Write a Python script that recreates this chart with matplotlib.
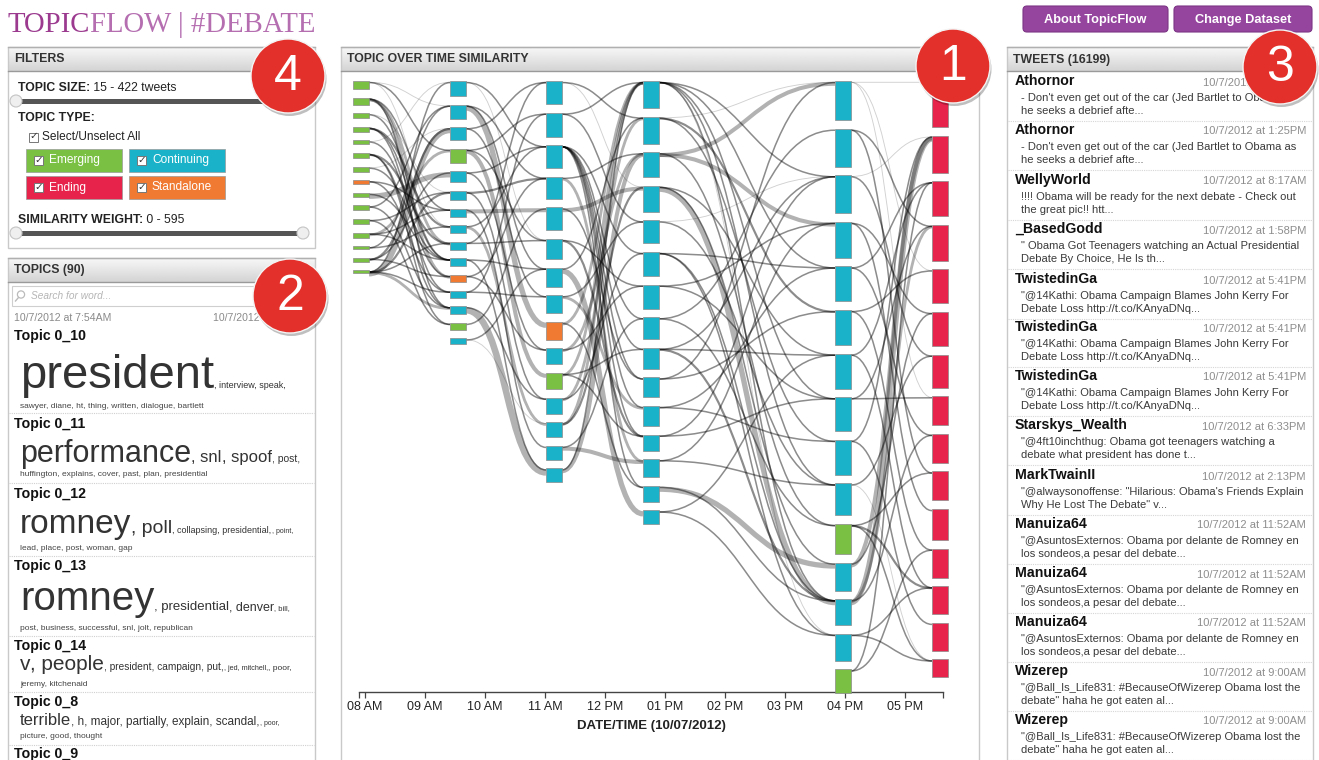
import matplotlib
matplotlib.use('Agg')
import matplotlib.pyplot as plt
from matplotlib.patches import Rectangle, FancyBboxPatch, Circle, PathPatch
from matplotlib.path import Path
import numpy as np

plt.rcParams['font.family'] = ['Liberation Sans', 'DejaVu Sans']

# ---------------- data ----------------
col_times = ['07:56', '09:33', '11:09', '12:46', '15:58', '17:35']
size_c1 = [8, 7, 5, 5, 4, 5, 5, 4, 4, 5, 5, 5, 3, 4, 3]
size_c2 = [15, 14, 13, 14, 11, 9, 8, 8, 8, 8, 7, 7, 8, 7, 6]
size_c3 = [23, 24, 23, 22, 23, 20, 19, 18, 18, 16, 16, 16, 15, 14, 14]
size_c4 = [27, 27, 25, 26, 23, 24, 24, 22, 21, 20, 20, 16, 18, 16, 14]
size_c5 = [39, 38, 38, 36, 35, 35, 35, 34, 35, 32, 30, 28, 26, 27, 24]
size_c6 = [46, 37, 35, 36, 34, 34, 33, 29, 29, 29, 31, 29, 28, 28, 18]
type_c1 = ['E'] * 7 + ['S'] + ['E'] * 7
type_c2 = ['C', 'C', 'C', 'E', 'C', 'C', 'C', 'C', 'C', 'C', 'S', 'C', 'C', 'E', 'C']
type_c3 = ['C'] * 8 + ['S', 'C', 'E', 'C', 'C', 'C', 'C']
type_c4 = ['C'] * 15
type_c5 = ['C'] * 10 + ['E', 'C', 'C', 'C', 'E']
type_c6 = ['N'] * 15

# links between consecutive columns: (source node, target node, weight)
links_1_2 = [(0, 3, 1), (0, 7, 0.5), (0, 1, 0.5), (1, 8, 2), (1, 10, 2), (1, 6, 1), (1, 12, 1),
             (2, 9, 1), (2, 5, 0.5), (3, 7, 1.5), (3, 11, 1), (3, 9, 1), (4, 10, 1), (4, 0, 0.5),
             (5, 8, 1.5), (5, 12, 1), (5, 13, 1), (6, 9, 1), (6, 2, 0.5), (7, 6, 1), (7, 11, 1),
             (8, 4, 4), (8, 9, 1), (9, 12, 1), (9, 1, 1), (10, 5, 1), (10, 13, 1), (11, 3, 2),
             (11, 6, 1), (11, 9, 1), (12, 1, 1), (12, 7, 1), (13, 2, 1.5), (13, 10, 1), (13, 4, 1),
             (14, 2, 4), (14, 0, 1), (14, 5, 1.5), (14, 8, 1), (14, 11, 1), (14, 12, 2)]
links_2_3 = [(0, 2, 1), (0, 5, 0.5), (1, 8, 4), (1, 6, 1), (1, 3, 1), (2, 0, 1), (2, 7, 1),
             (3, 10, 3), (3, 5, 1), (3, 1, 1), (4, 2, 1), (4, 9, 1), (5, 3, 1.5), (5, 11, 1),
             (6, 4, 3), (6, 13, 1), (7, 12, 2), (7, 2, 1), (8, 5, 1), (8, 0, 1), (9, 6, 1),
             (9, 14, 1), (10, 3, 1), (10, 9, 1), (11, 7, 1), (11, 1, 1), (12, 14, 5), (12, 11, 1),
             (13, 4, 1), (14, 6, 1), (14, 12, 0.5)]
links_3_4 = [(0, 1, 1), (0, 3, 0.5), (1, 0, 1), (1, 4, 1), (2, 7, 1), (2, 8, 1), (2, 9, 1),
             (2, 10, 1), (2, 11, 1), (2, 13, 1), (2, 5, 1), (3, 2, 1), (3, 12, 2), (4, 3, 3),
             (4, 9, 1), (5, 11, 1.5), (5, 6, 1), (6, 14, 4), (6, 1, 1), (7, 10, 2), (7, 4, 1),
             (8, 13, 1), (8, 0, 2), (9, 2, 2), (9, 6, 1), (10, 8, 1), (10, 11, 1), (10, 0, 2),
             (11, 1, 2), (11, 5, 1), (12, 3, 1.5), (12, 0, 2), (13, 12, 3), (13, 7, 1),
             (14, 2, 3), (14, 0, 1)]
links_4_5 = [(0, 2, 1), (0, 4, 1), (0, 7, 1), (0, 9, 1), (0, 12, 1), (0, 13, 0.5), (1, 5, 1.5),
             (1, 8, 1), (1, 0, 0.5), (2, 0, 3), (2, 3, 3), (2, 10, 1), (3, 12, 4), (3, 6, 1),
             (3, 11, 1), (4, 9, 1), (4, 2, 0.5), (5, 4, 1), (5, 13, 1), (5, 12, 1), (6, 3, 1),
             (6, 7, 1), (7, 1, 1), (7, 10, 1), (8, 2, 1), (8, 6, 1), (8, 12, 1.5), (9, 5, 1),
             (9, 0, 1), (10, 8, 1), (10, 4, 1), (11, 7, 1), (11, 2, 1), (12, 9, 1), (12, 3, 1),
             (13, 11, 4), (13, 12, 1), (14, 13, 1), (14, 6, 1)]
links_5_6 = [(0, 4, 0.5), (0, 0, 0.5), (0, 7, 0.5), (1, 3, 1), (1, 9, 1), (2, 6, 1), (2, 1, 0.5),
             (3, 5, 1), (3, 10, 1), (4, 8, 1), (4, 2, 1), (5, 4, 1), (5, 11, 1), (6, 2, 1),
             (6, 12, 1), (7, 7, 1), (7, 3, 1), (8, 13, 1), (8, 1, 1), (9, 6, 1), (9, 14, 0.5),
             (10, 12, 1.5), (10, 9, 1), (10, 14, 1), (11, 1, 3), (11, 5, 1), (12, 1, 4),
             (12, 3, 2), (12, 8, 1), (13, 14, 1), (13, 12, 1), (14, 11, 1), (14, 2, 1)]

tick_hours = [8, 9, 10, 11, 12, 13, 14, 15, 16, 17]
tick_labels = ['08 AM', '09 AM', '10 AM', '11 AM', '12 PM', '01 PM', '02 PM', '03 PM', '04 PM', '05 PM']
axis_start, axis_end = '07:54', '17:38'

topic_names = ['Topic 0_10', 'Topic 0_11', 'Topic 0_12', 'Topic 0_13', 'Topic 0_14', 'Topic 0_8', 'Topic 0_9']
topic_line1 = [
    [('president', 34), (', interview, speak,', 6.5)],
    [('performance', 22), (', snl', 12), (', spoof', 12), (', post,', 7.5)],
    [('romney', 24), (', poll', 14), (', collapsing, presidential,', 6.5), (', point,', 5)],
    [('romney', 29), (', presidential', 9.5), (', denver', 9), (', bill,', 5.5)],
    [('v', 15), (', people', 15), (', president, campaign, put,', 7.3), (', jed, mitchell,', 5.2), (', poor,', 6)],
    [('terrible', 12), (', h, major, partially, explain, scandal,', 8.5), (', poor,', 5)],
]
topic_line2 = ['sawyer, diane, ht, thing, written, dialogue, bartlett',
               'huffington, explains, cover, past, plan, presidential',
               'lead, place, post, woman, gap',
               'post, business, successful, snl, jolt, republican',
               'jeremy, kitchenaid',
               'picture, good, thought']

tweet_users = ['Athornor', 'Athornor', 'WellyWorld', '_BasedGodd', 'TwistedinGa', 'TwistedinGa',
               'TwistedinGa', 'Starskys_Wealth', 'MarkTwainII', 'Manuiza64', 'Manuiza64', 'Manuiza64',
               'Wizerep', 'Wizerep']
tweet_times = ['10/7/2012 at 1:25PM', '10/7/2012 at 1:25PM', '10/7/2012 at 8:17AM', '10/7/2012 at 1:58PM',
               '10/7/2012 at 5:41PM', '10/7/2012 at 5:41PM', '10/7/2012 at 5:41PM', '10/7/2012 at 6:33PM',
               '10/7/2012 at 2:13PM', '10/7/2012 at 11:52AM', '10/7/2012 at 11:52AM', '10/7/2012 at 11:52AM',
               '10/7/2012 at 9:00AM', '10/7/2012 at 9:00AM']
t_jed = ("- Don't even get out of the car (Jed Bartlet to Obama as", 'he seeks a debrief afte...')
t_kerry = ('"@14Kathi: Obama Campaign Blames John Kerry For', 'Debate Loss http://t.co/KAnyaDNq...')
t_asun = ('"@AsuntosExternos: Obama por delante de Romney en', 'los sondeos,a pesar del debate...')
t_wize = ('"@Ball_Is_Life831: #BecauseOfWizerep Obama lost the', 'debate" haha he got eaten al...')
tweet_texts = [t_jed, t_jed,
               ('!!!! Obama will be ready for the next debate - Check out', 'the great pic!! htt...'),
               ('" Obama Got Teenagers watching an Actual Presidential', 'Debate By Choice, He Is th...'),
               t_kerry, t_kerry, t_kerry,
               ('"@4ft10inchthug: Obama got teenagers watching a', 'debate what president has done t...'),
               ('"@alwaysonoffense: "Hilarious: Obama\'s Friends Explain', 'Why He Lost The Debate" v...'),
               t_asun, t_asun, t_asun, t_wize, t_wize]

# ---------------- styles ----------------
COLORS = {'E': '#7ac143', 'C': '#19b2c8', 'N': '#e8234b', 'S': '#f07a32'}
W, H = 1319, 760
fig = plt.figure(figsize=(W / 100, H / 100), dpi=100)
fig.patch.set_facecolor('white')
bg = fig.add_axes([0, 0, 1, 1], zorder=0)
bg.axis('off')
renderer = fig.canvas.get_renderer()


def txt(x, y, s, size, color='#222', weight='normal', ha='left', va='center', style='normal',
        ax=None, family=None, z=5):
    ax = ax or bg
    kw = {}
    if family:
        kw['family'] = family
    return ax.text(x, y, s, fontsize=size, color=color, fontweight=weight, ha=ha, va=va,
                   fontstyle=style, zorder=z, **kw)


def run(x, y, parts, va='baseline', family=None):
    for s, size, weight, color in parts:
        t = txt(x, y, s, size, color=color, weight=weight, va=va, family=family)
        x += t.get_window_extent(renderer).width
    return x


def panel(x0, y0, x1, y1, label):
    bg.add_patch(Rectangle((x0, y0), x1 - x0, y1 - y0, fill=False, ec='#c9c9c9', lw=1, zorder=2))
    grad = np.linspace(0.97, 0.83, 40).reshape(-1, 1)
    bg.imshow(grad, cmap='gray', vmin=0, vmax=1, extent=(x0, x1, y0 + 24, y0), aspect='auto', zorder=1)
    bg.plot([x0, x1], [y0 + 24, y0 + 24], color='#9a9a9a', lw=1, zorder=2)
    bg.plot([x0, x1], [y0, y0], color='#b0b0b0', lw=1, zorder=2)
    txt(x0 + 6, y0 + 12.5, label, 8.8, color='#333', weight='bold')


def slider(x0, x1, y, handles):
    bg.plot([x0, x1], [y, y], color='#555555', lw=3.6, solid_capstyle='round', zorder=3)
    for hx in handles:
        bg.add_patch(Circle((hx, y), 6, fc='#efefef', ec='#c4c4c4', lw=0.8, zorder=4))


def checkbox(x, y):
    bg.add_patch(Rectangle((x - 4.5, y - 4.5), 9, 9, fc='white', ec='#777', lw=0.7, zorder=6))
    txt(x + 0.5, y - 0.5, '\u2713', 7.5, color='#333', ha='center', va='center', family='DejaVu Sans', z=7)


# ---------------- title & buttons ----------------
run(8, 32, [('TOPIC', 20.7, 'normal', '#9b3a8f'), ('FLOW | #DEBATE', 20.7, 'normal', '#b56fb1')],
    family='Liberation Serif')
for (bx0, bx1, lab) in [(1023, 1168, 'About TopicFlow'), (1174, 1312, 'Change Dataset')]:
    bg.add_patch(FancyBboxPatch((bx0, 6), bx1 - bx0, 26, boxstyle='round,pad=0,rounding_size=4',
                                fc='#96459f', ec='#7c3585', lw=0.8, zorder=3))
    txt((bx0 + bx1) / 2, 19.5, lab, 9.2, color='white', weight='bold', ha='center')

# ---------------- filters panel ----------------
panel(8, 47, 315, 248, 'FILTERS')
run(18, 91, [('TOPIC SIZE:', 8.8, 'bold', '#222'), (' 15 - 422 tweets', 8.8, 'normal', '#222')])
slider(16, 305, 101, [16])
txt(18, 118, 'TOPIC TYPE:', 8.8, weight='bold')
checkbox(33, 137)
txt(42, 137, 'Select/Unselect All', 8.6, color='#222')
for (x0, y0, ty, lab) in [(26, 149, 'E', 'Emerging'), (129, 149, 'C', 'Continuing'),
                          (26, 176, 'N', 'Ending'), (129, 176, 'S', 'Standalone')]:
    bg.add_patch(Rectangle((x0, y0), 96, 23, fc=COLORS[ty], ec='#999', lw=0.5, zorder=3))
    checkbox(x0 + 12, y0 + 11.5)
    txt(x0 + 23, y0 + 11.5, lab, 8.6, color='white')
run(18, 223, [('SIMILARITY WEIGHT:', 8.8, 'bold', '#222'), (' 0 - 595', 8.8, 'normal', '#222')])
slider(16, 303, 233, [16, 303])

# ---------------- topics panel ----------------
panel(8, 258, 315, 770, 'TOPICS (90)')
bg.add_patch(Rectangle((12, 286), 298, 20, fc='white', ec='#cfcfcf', lw=0.8, zorder=3))
bg.add_patch(Circle((21, 294.5), 3.6, fill=False, ec='#bbb', lw=0.9, zorder=4))
bg.plot([18.5, 15.5], [297.5, 301], color='#bbb', lw=1, zorder=4)
txt(31, 296, 'Search for word...', 7.3, color='#b5b5b5', style='italic')
txt(14, 318, '10/7/2012 at 7:54AM', 7.6, color='#8a8a8a')
txt(310, 318, '10/7/2012 at 5:38PM', 7.6, color='#8a8a8a', ha='right')
title_y = [336, 424, 494, 566, 646, 702, 754]
base_y = [388, 462, 533, 610, 670, 725]
line2_y = [406, 475, 548, 628, 684, 737]
div_y = [413, 483, 556, 636, 692, 745]
for i, name in enumerate(topic_names):
    txt(14, title_y[i], name, 10.2, color='#111', weight='bold')
for i in range(len(topic_line1)):
    run(20, base_y[i], [(s, sz, 'normal', '#333') for s, sz in topic_line1[i]])
    txt(20, line2_y[i], topic_line2[i], 6, color='#444')
    bg.plot([9, 314], [div_y[i], div_y[i]], color='#d0d0d0', lw=0.8, ls=(0, (1, 1)), zorder=3)

# ---------------- central panel ----------------
panel(341, 47, 979, 770, 'TOPIC OVER TIME SIMILARITY')


def hours(s):
    h, m = s.split(':')
    return int(h) + int(m) / 60.0


x_lo, x_hi = hours(axis_start), hours(axis_end)
AX_L, AX_R, AX_T, AX_B = 359, 943, 72, 692
ax = fig.add_axes([AX_L / W, (H - AX_B) / H, (AX_R - AX_L) / W, (AX_B - AX_T) / H], zorder=2)
ax.patch.set_alpha(0)
ax.set_xlim(x_lo, x_hi)
ax.set_ylim(AX_B, AX_T)
for sp in ['top', 'left', 'right']:
    ax.spines[sp].set_visible(False)
ax.spines['bottom'].set_color('#444')
ax.spines['bottom'].set_linewidth(1)
ax.set_yticks([])
ax.set_xticks([x_lo] + tick_hours + [x_hi])
ax.set_xticklabels([''] + tick_labels + [''])
ax.tick_params(axis='x', direction='out', length=4.5, width=0.9, color='#444', pad=2,
               labelsize=9, labelcolor='#222')
ax.set_xlabel('DATE/TIME (10/07/2012)', fontsize=9.5, fontweight='bold', color='#222', labelpad=5)

TOP, GAP, NW = 81, 8.6, 16 / 60.0
col_x = [hours(t) for t in col_times]
sizes = [size_c1, size_c2, size_c3, size_c4, size_c5, size_c6]
types = [type_c1, type_c2, type_c3, type_c4, type_c5, type_c6]
gaps = [links_1_2, links_2_3, links_3_4, links_4_5, links_5_6]

tops = []
for sz in sizes:
    y, tp = TOP, []
    for s in sz:
        tp.append(y)
        y += s + GAP
    tops.append(tp)

for k, lk in enumerate(gaps):
    x0 = col_x[k] + NW / 2
    x1 = col_x[k + 1] - NW / 2
    xm = (x0 + x1) / 2
    for a, b, w in lk:
        y0 = tops[k][a] + 1 + w * 0.6
        y1 = tops[k + 1][b] + 1 + w * 0.6
        p = Path([(x0, y0), (xm, y0), (xm, y1), (x1, y1)],
                 [Path.MOVETO, Path.CURVE4, Path.CURVE4, Path.CURVE4])
        if w >= 2:
            alpha = 0.3
        elif w >= 1:
            alpha = 0.45
        else:
            alpha = 0.18
        ax.add_patch(PathPatch(p, fill=False, lw=0.72 * (0.3 + 1.25 * w), ec=(0, 0, 0, alpha),
                               zorder=2, clip_on=False))

for k in range(len(sizes)):
    for i, s in enumerate(sizes[k]):
        ax.add_patch(Rectangle((col_x[k] - NW / 2, tops[k][i]), NW, s, fc=COLORS[types[k][i]],
                               ec='#8a8a8a', lw=0.5, zorder=3, clip_on=False))

# ---------------- tweets panel ----------------
panel(1007, 47, 1313, 770, 'TWEETS (16199)')
tw_y = [81, 130, 180, 229, 279, 327, 376, 425, 475, 524, 573, 622, 671, 720]
for i, u in enumerate(tweet_users):
    y = tw_y[i]
    txt(1015, y, u, 10.2, color='#111', weight='bold')
    txt(1306, y + 1.5, tweet_times[i], 8.0, color='#8d8d8d', ha='right')
    txt(1021, y + 17, tweet_texts[i][0], 8.0, color='#3a3a3a')
    txt(1021, y + 30, tweet_texts[i][1], 8.0, color='#3a3a3a')
    bg.plot([1008, 1312], [y + 40, y + 40], color='#d6d6d6', lw=0.8, ls=(0, (1, 1)), zorder=3)

bg.set_xlim(0, W)
bg.set_ylim(H, 0)

# ---------------- badges ----------------
ov = fig.add_axes([0, 0, 1, 1], zorder=10)
ov.axis('off')
ov.patch.set_alpha(0)
ov.set_xlim(0, W)
ov.set_ylim(H, 0)
for (cx, cy, n) in [(288, 76, '4'), (290, 296, '2'), (953, 66, '1'), (1280, 67, '3')]:
    ov.add_patch(Circle((cx + 1.5, cy + 3), 37, fc=(0, 0, 0, 0.25), ec='none'))
    ov.add_patch(Circle((cx, cy), 37, fc='#e4302a', ec='#f4f4f4', lw=1))
    ov.text(cx, cy + 1, n, fontsize=36, color='white', ha='center', va='center')

fig.savefig('out.png', dpi=100)
